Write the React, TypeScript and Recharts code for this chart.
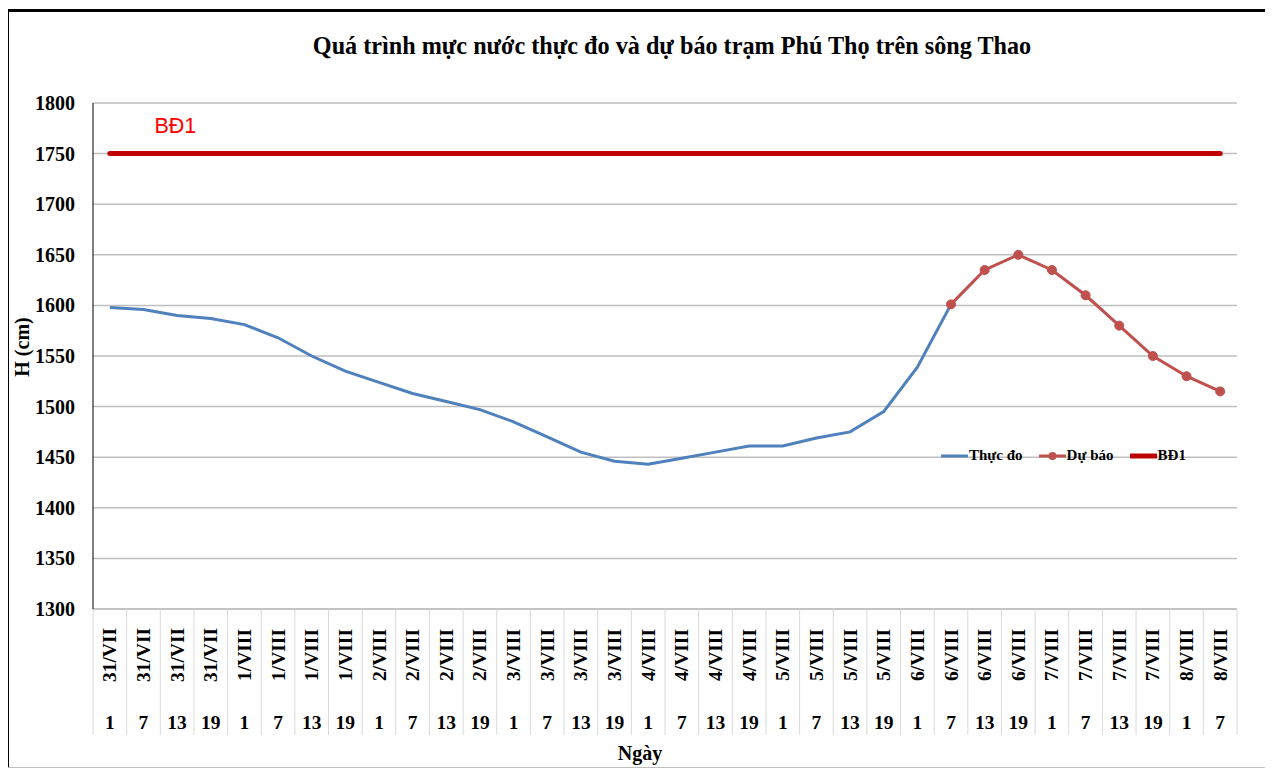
import React from "react";
import {
  LabelList,
  Line,
  LineChart,
  CartesianGrid,
  XAxis,
  YAxis,
} from "recharts";

const days = [
  "31/VII", "31/VII", "31/VII", "31/VII",
  "1/VIII", "1/VIII", "1/VIII", "1/VIII",
  "2/VIII", "2/VIII", "2/VIII", "2/VIII",
  "3/VIII", "3/VIII", "3/VIII", "3/VIII",
  "4/VIII", "4/VIII", "4/VIII", "4/VIII",
  "5/VIII", "5/VIII", "5/VIII", "5/VIII",
  "6/VIII", "6/VIII", "6/VIII", "6/VIII",
  "7/VIII", "7/VIII", "7/VIII", "7/VIII",
  "8/VIII", "8/VIII",
];

const hours = [
  1, 7, 13, 19, 1, 7, 13, 19, 1, 7, 13, 19, 1, 7, 13, 19, 1, 7, 13, 19,
  1, 7, 13, 19, 1, 7, 13, 19, 1, 7, 13, 19, 1, 7,
];

// thực đo (observed), stops at 6/VIII 7h
const observed = [
  1598, 1596, 1590, 1587, 1581, 1568, 1550, 1535, 1524, 1513, 1505, 1497,
  1485, 1470, 1455, 1446, 1443, 1449, 1455, 1461, 1461, 1469, 1475, 1495,
  1539, 1601,
];

// dự báo (forecast), starts at 6/VIII 7h
const forecastStart = 25;
const forecast = [1601, 1635, 1650, 1635, 1610, 1580, 1550, 1530, 1515];

const alarmLevel = 1750; // BĐ1

const yTicks = [1300, 1350, 1400, 1450, 1500, 1550, 1600, 1650, 1700, 1750, 1800];

const data = days.map((day, i) => ({
  slot: `${day} ${hours[i]}`,
  day,
  hour: hours[i],
  observed: i < observed.length ? observed[i] : null,
  forecast:
    i >= forecastStart && i - forecastStart < forecast.length
      ? forecast[i - forecastStart]
      : null,
  alarm: alarmLevel,
}));

const serif = '"Liberation Serif", "Times New Roman", serif';
const PLOT_LEFT = 93;
const PLOT_RIGHT = 1237;
const PLOT_BOTTOM = 609;
const AXIS_BAND = 126;
const bw = (PLOT_RIGHT - PLOT_LEFT) / days.length;

function DateTick(props: any) {
  const { x, y, index } = props;
  const row = data[index];
  if (!row) return null;
  return (
    <g>
      <line x1={x - bw / 2} x2={x - bw / 2} y1={y} y2={y + AXIS_BAND} stroke="#d9d9d9" />
      {index === data.length - 1 && (
        <line x1={x + bw / 2} x2={x + bw / 2} y1={y} y2={y + AXIS_BAND} stroke="#d9d9d9" />
      )}
      <text
        transform={`translate(${x},${y + 46}) rotate(-90)`}
        textAnchor="middle"
        dominantBaseline="central"
        fontFamily={serif}
        fontWeight="bold"
        fontSize={19.5}
        fill="#000"
      >
        {row.day}
      </text>
      <text
        x={x}
        y={y + 113}
        textAnchor="middle"
        dominantBaseline="central"
        fontFamily={serif}
        fontWeight="bold"
        fontSize={19.5}
        fill="#000"
      >
        {row.hour}
      </text>
    </g>
  );
}

function LevelTick(props: any) {
  const { x, y, payload } = props;
  return (
    <text
      x={x}
      y={y}
      textAnchor="end"
      dominantBaseline="central"
      fontFamily={serif}
      fontWeight="bold"
      fontSize={20}
      fill="#000"
    >
      {payload.value}
    </text>
  );
}

function LegendBox() {
  const items = [
    { label: "Thực đo", color: "#4f81bd", width: 3, dot: false },
    { label: "Dự báo", color: "#c0504d", width: 3, dot: true },
    { label: "BĐ1", color: "#c00000", width: 5, dot: false },
  ];
  return (
    <div style={{ display: "flex", alignItems: "center", gap: 16 }}>
      {items.map((it) => (
        <div key={it.label} style={{ display: "flex", alignItems: "center" }}>
          <svg width={27} height={12}>
            <line x1={1} x2={26} y1={6} y2={6} stroke={it.color} strokeWidth={it.width} strokeLinecap="round" />
            {it.dot && <circle cx={13.5} cy={6} r={4} fill={it.color} />}
          </svg>
          <span
            style={{
              fontFamily: serif,
              fontWeight: "bold",
              fontSize: 15,
              color: "#000",
              marginLeft: 1,
            }}
          >
            {it.label}
          </span>
        </div>
      ))}
    </div>
  );
}

function AlarmLabel(props: any) {
  const { x, y, index } = props;
  if (index !== 1) return null;
  return (
    <text
      x={x + 11}
      y={y - 28}
      fill="#ff0000"
      fontSize={21.5}
      fontFamily='"Liberation Sans", Arial, sans-serif'
      dominantBaseline="central"
    >
      BĐ1
    </text>
  );
}

export default function App() {
  return (
    <div
      style={{
        position: "relative",
        width: 1273,
        height: 769,
        marginLeft: -8,
        marginTop: -8,
        background: "#fff",
        overflow: "hidden",
      }}
    >
      <div
        style={{
          position: "absolute",
          left: 6,
          top: 9,
          width: 1256,
          height: 755,
          borderTop: "3px solid #000",
          borderLeft: "3px solid #000",
          borderRight: "3px solid #000",
          borderBottom: "1px solid #bfbfbf",
        }}
      />
      <div
        style={{
          position: "absolute",
          left: 672,
          top: 46,
          transform: "translate(-50%, -50%)",
          whiteSpace: "nowrap",
          fontFamily: serif,
          fontWeight: "bold",
          fontSize: 24.2,
          color: "#000",
        }}
      >
        Quá trình mực nước thực đo và dự báo trạm Phú Thọ trên sông Thao
      </div>
      <div
        style={{
          position: "absolute",
          left: 22,
          top: 347,
          transform: "translate(-50%, -50%) rotate(-90deg)",
          whiteSpace: "nowrap",
          fontFamily: serif,
          fontWeight: "bold",
          fontSize: 20,
          color: "#000",
        }}
      >
        H (cm)
      </div>
      <div
        style={{
          position: "absolute",
          left: 640,
          top: 753,
          transform: "translate(-50%, -50%)",
          whiteSpace: "nowrap",
          fontFamily: serif,
          fontWeight: "bold",
          fontSize: 20,
          color: "#000",
        }}
      >
        Ngày
      </div>
      <div style={{ position: "absolute", left: 0, top: 0 }}>
        <LineChart
          width={1273}
          height={769}
          data={data}
          margin={{
            top: 103,
            right: 1273 - PLOT_RIGHT,
            left: 33,
            bottom: 769 - PLOT_BOTTOM - AXIS_BAND,
          }}
        >
          <CartesianGrid vertical={false} stroke="#bfbfbf" strokeWidth={1.5} />
          <XAxis
            dataKey="slot"
            interval={0}
            height={AXIS_BAND}
            padding={{ left: bw / 2, right: bw / 2 }}
            tickSize={0}
            tickMargin={0}
            tickLine={false}
            axisLine={{ stroke: "#bfbfbf", strokeWidth: 1.5 }}
            tick={<DateTick />}
          />
          <YAxis
            width={60}
            domain={[1300, 1800]}
            ticks={yTicks}
            interval={0}
            tickLine={false}
            tickSize={6}
            tickMargin={12}
            axisLine={{ stroke: "#000", strokeWidth: 1 }}
            tick={<LevelTick />}
          />
          <Line
            dataKey="alarm"
            stroke="#c00000"
            strokeWidth={5}
            strokeLinecap="round"
            dot={false}
            isAnimationActive={false}
          >
            <LabelList dataKey="alarm" content={<AlarmLabel />} />
          </Line>
          <Line
            dataKey="observed"
            stroke="#4f81bd"
            strokeWidth={3}
            dot={false}
            connectNulls={false}
            isAnimationActive={false}
          />
          <Line
            dataKey="forecast"
            stroke="#c0504d"
            strokeWidth={3}
            dot={{ r: 4.5, fill: "#c0504d", stroke: "#c0504d", strokeWidth: 1 }}
            connectNulls={false}
            isAnimationActive={false}
          />
        </LineChart>
      </div>
      <div style={{ position: "absolute", left: 941, top: 447 }}>
        <LegendBox />
      </div>
    </div>
  );
}
